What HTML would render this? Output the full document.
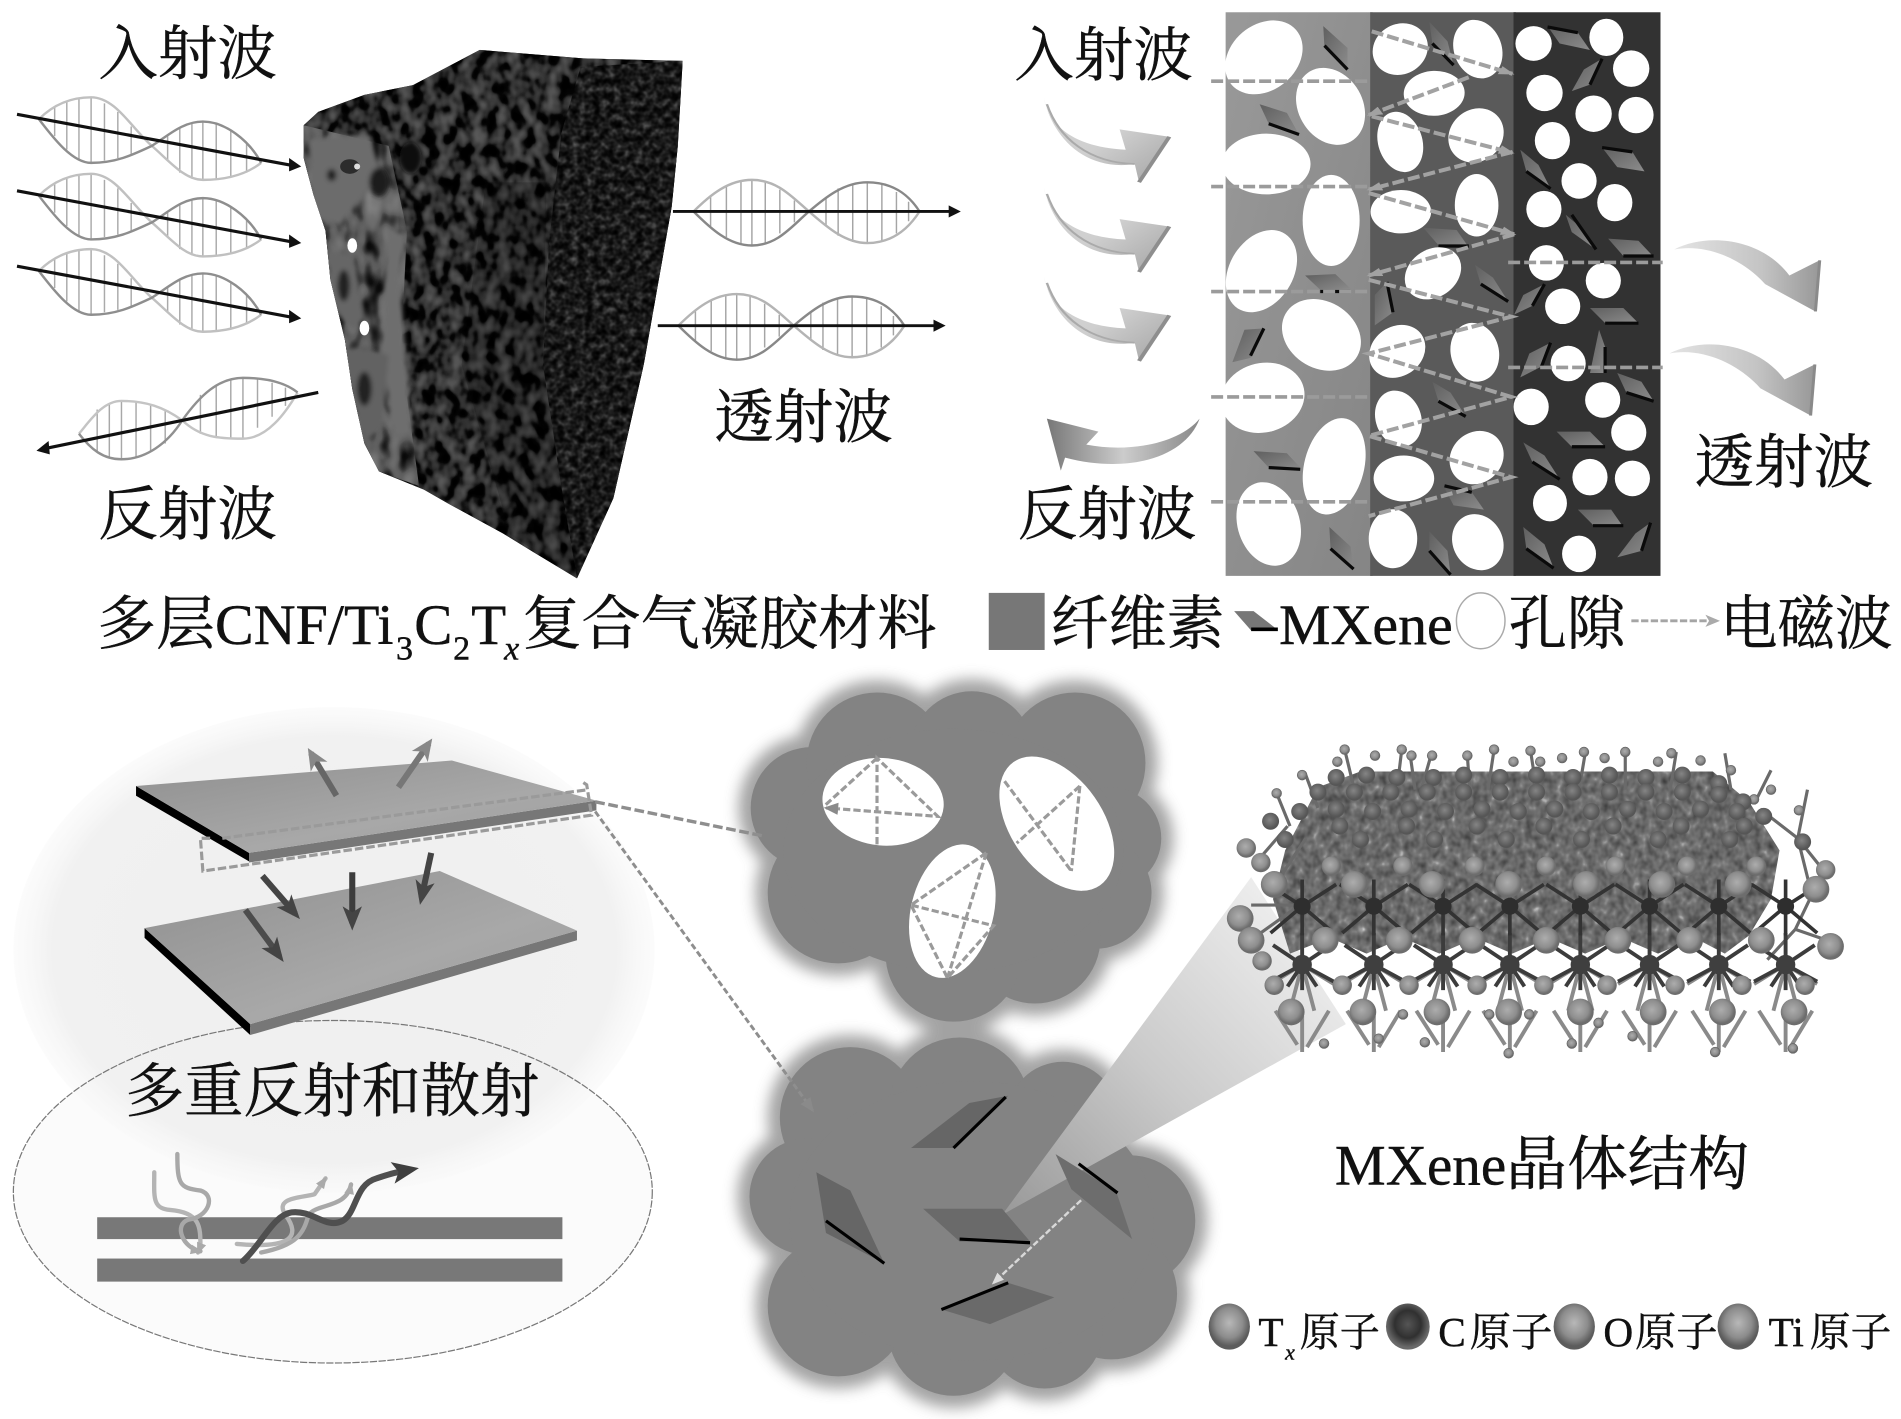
<!DOCTYPE html>
<html><head><meta charset="utf-8"><style>
html,body{margin:0;padding:0;background:#fff}
svg{display:block}
text{fill:#111;stroke:#111;stroke-width:.35}
.c{font-family:"Noto Serif CJK SC","Noto Serif CJK JP","Liberation Serif",serif;font-size:48.5px}
.l{font-family:"Liberation Serif",serif;font-size:47px}
.s{font-family:"Liberation Serif",serif;font-size:28px}
.c2{font-family:"Noto Serif CJK SC","Liberation Serif",serif;font-size:33px}
.l2{font-family:"Liberation Serif",serif;font-size:34px}
</style></head><body>
<svg width="1901" height="1419" viewBox="0 0 1565 1168" xmlns="http://www.w3.org/2000/svg">
<defs>
<filter id="fPore" x="0" y="0" width="100%" height="100%" color-interpolation-filters="sRGB"><feTurbulence type="fractalNoise" baseFrequency=".1 .075" numOctaves="2" seed="7"/><feColorMatrix values="1 0 0 0 0 1 0 0 0 0 1 0 0 0 0 0 0 0 0 1"/><feComponentTransfer><feFuncR type="table" tableValues="0 0 0 .02 .18 .26 .32 .36 .42"/><feFuncG type="table" tableValues="0 0 0 .02 .18 .26 .32 .36 .42"/><feFuncB type="table" tableValues="0 0 0 .02 .18 .26 .32 .36 .42"/></feComponentTransfer></filter>
<filter id="fLeft" x="0" y="0" width="100%" height="100%" color-interpolation-filters="sRGB"><feTurbulence type="fractalNoise" baseFrequency=".07 .045" numOctaves="2" seed="3"/><feColorMatrix values="1 0 0 0 0 1 0 0 0 0 1 0 0 0 0 0 0 0 0 1"/><feComponentTransfer><feFuncR type="table" tableValues="0 0 .05 .2 .36 .42 .46 .5 .54"/><feFuncG type="table" tableValues="0 0 .05 .2 .36 .42 .46 .5 .54"/><feFuncB type="table" tableValues="0 0 .05 .2 .36 .42 .46 .5 .54"/></feComponentTransfer></filter>
<filter id="fFine" x="0" y="0" width="100%" height="100%" color-interpolation-filters="sRGB"><feTurbulence type="fractalNoise" baseFrequency=".17" numOctaves="2" seed="11"/><feColorMatrix values="1 0 0 0 0 1 0 0 0 0 1 0 0 0 0 0 0 0 0 1"/><feComponentTransfer><feFuncR type="table" tableValues="0 0 .02 .05 .1 .16 .24 .32 .4"/><feFuncG type="table" tableValues="0 0 .02 .05 .1 .16 .24 .32 .4"/><feFuncB type="table" tableValues="0 0 .02 .05 .1 .16 .24 .32 .4"/></feComponentTransfer></filter>
<filter id="fLat" x="0" y="0" width="100%" height="100%" color-interpolation-filters="sRGB"><feTurbulence type="fractalNoise" baseFrequency=".16 .13" numOctaves="2" seed="5"/><feColorMatrix values="1 0 0 0 0 1 0 0 0 0 1 0 0 0 0 0 0 0 0 1"/><feComponentTransfer><feFuncR type="table" tableValues=".2 .26 .32 .37 .42 .46 .54 .72 1"/><feFuncG type="table" tableValues=".2 .26 .32 .37 .42 .46 .54 .72 1"/><feFuncB type="table" tableValues=".2 .26 .32 .37 .42 .46 .54 .72 1"/></feComponentTransfer></filter>
<filter id="blur8" x="-20%" y="-20%" width="140%" height="140%"><feGaussianBlur stdDeviation="6"/></filter>
<filter id="b2" x="-20%" y="-20%" width="140%" height="140%"><feGaussianBlur stdDeviation="2"/></filter>
<clipPath id="foam"><path d="M250 103L262 92 300 78 340 70 395 41 480 48 562 50 558 120 553 170 530 300 505 410 475 476 440 455 414 439 370 415 349 403 312 388 300 365 290 320 284 280 272 230 268 190 258 160 250 130Z"/></clipPath>
<clipPath id="cLeft"><path d="M250 103L320 120 335 190 330 290 345 400 312 388 300 365 290 320 284 280 272 230 268 190 258 160 250 130Z"/></clipPath>
<clipPath id="cRight"><path d="M478 55L562 50 558 120 553 170 530 300 505 410 475 476 462 400 447 300 452 200 462 110Z"/></clipPath>
<clipPath id="cLat"><path d="M1085 648L1120 635 1410 635 1440 660 1465 700 1458 740 1440 770 1420 785 1395 772 1365 785 1335 772 1305 785 1275 772 1245 785 1215 772 1185 785 1155 772 1125 785 1095 772 1062 785 1048 740 1058 700Z"/></clipPath>
<radialGradient id="disc"><stop offset="0" stop-color="#efefef"/><stop offset=".88" stop-color="#f1f1f1"/><stop offset="1" stop-color="#f8f8f8" stop-opacity=".5"/></radialGradient>
<linearGradient id="plate" x1="0" y1="0" x2="1" y2="1"><stop offset="0" stop-color="#8f8f8f"/><stop offset=".6" stop-color="#a8a8a8"/><stop offset="1" stop-color="#9c9c9c"/></linearGradient>
<linearGradient id="beam" gradientUnits="userSpaceOnUse" x1="830" y1="1000" x2="1070" y2="770"><stop offset="0" stop-color="#9a9a9a"/><stop offset=".5" stop-color="#cacaca"/><stop offset="1" stop-color="#ececec"/></linearGradient>
<linearGradient id="sw1" x1="0" y1="0" x2="1" y2="1"><stop offset="0" stop-color="#d4d4d4"/><stop offset=".5" stop-color="#cfcfcf"/><stop offset="1" stop-color="#a4a4a4"/></linearGradient>
<linearGradient id="sw2" x1="0" y1="0" x2="1" y2="0"><stop offset="0" stop-color="#e4e4e4"/><stop offset=".6" stop-color="#c4c4c4"/><stop offset="1" stop-color="#989898"/></linearGradient>
<linearGradient id="sw3" x1="0" y1="0" x2="1" y2="0"><stop offset="0" stop-color="#777"/><stop offset=".5" stop-color="#ccc"/><stop offset="1" stop-color="#888"/></linearGradient>
<linearGradient id="col1" x1="0" y1="0" x2="1" y2="1"><stop offset="0" stop-color="#999"/><stop offset="1" stop-color="#858585"/></linearGradient>
<linearGradient id="sheet" x1="0" y1="0" x2="1" y2="1"><stop offset="0" stop-color="#5f5f5f"/><stop offset="1" stop-color="#8c8c8c"/></linearGradient>
<radialGradient id="ba" cx=".45" cy=".42"><stop offset="0" stop-color="#adadad"/><stop offset=".7" stop-color="#8e8e8e"/><stop offset="1" stop-color="#6d6d6d"/></radialGradient>
<radialGradient id="bd" cx=".45" cy=".42"><stop offset="0" stop-color="#858585"/><stop offset="1" stop-color="#565656"/></radialGradient>
<radialGradient id="bk" cx=".5" cy=".45"><stop offset="0" stop-color="#555"/><stop offset=".6" stop-color="#303030"/><stop offset="1" stop-color="#6a6a6a"/></radialGradient>
<radialGradient id="bl" cx=".5" cy=".42"><stop offset="0" stop-color="#b8b8b8"/><stop offset=".65" stop-color="#8c8c8c"/><stop offset="1" stop-color="#5c5c5c"/></radialGradient>
<circle id="B" r="11" fill="url(#ba)"/>
<circle id="M" r="8" fill="url(#ba)"/>
<circle id="S" r="4" fill="url(#ba)" stroke="#666" stroke-width=".6"/>
<circle id="D" r="7" fill="url(#bd)"/>
<g id="cell">
<path d="M-10 832L0 794 10 832M-26 810L0 794 26 810M-22 832L-4 860M22 832L4 862M0 836V866" stroke="#8a8a8a" stroke-width="3.2" fill="none"/>
<path d="M-24 778L0 794 24 778M-26 808L0 794 26 808M0 768V815M-12 812L0 794 12 812" stroke="#3c3c3c" stroke-width="3.2" fill="none"/>
<circle cx="0" cy="794" r="8" fill="#3f3f3f"/>
<path d="M-28 728L0 746 28 728M-26 768L0 746 26 768M0 724V770" stroke="#333" stroke-width="3" fill="none"/>
<circle cx="0" cy="746" r="7" fill="#2e2e2e"/>
</g>
<g id="wv" fill="none">
<path d="M45 88V112M55 83V123M65 81V131M75 80V134M86 85V132M97 92V130M108 104V127M138 132V112M148 142V105M158 147V101M167 148V100M178 148V102M190 146V107M203 142V118" stroke="#aaa" stroke-width="1.2"/>
<path d="M32 98C45 85 60 80 75 80C95 80 108 105 125 120C140 133 152 148 167 148C185 148 202 144 215 134" stroke="#c0c0c0" stroke-width="2"/>
<path d="M32 98C45 115 60 134 75 134C95 134 108 128 125 120C138 112 150 100 167 100C185 100 205 115 215 134" stroke="#8e8e8e" stroke-width="2"/>
<path d="M14 94L240 136" stroke="#111" stroke-width="2.6"/>
<path d="M248 137L238 130 238 141Z" fill="#111"/>
</g>
<g id="wt" fill="none">
<path d="M585 162V186M598 153V195M610 149V201M619 148V202M630 150V200M642 156V192M654 165V183M680 186V162M690 194V155M702 199V151M714 200V150M726 198V152M738 192V158M748 182V166" stroke="#a5a5a5" stroke-width="1.2"/>
<path d="M571 174C585 160 600 148 619 148C640 148 652 162 666 174C680 186 695 200 714 200C735 200 748 188 757 174" stroke="#b4b4b4" stroke-width="2"/>
<path d="M571 174C585 188 600 202 619 202C640 202 652 186 666 174C680 162 695 150 714 150C735 150 748 160 757 174" stroke="#888" stroke-width="2"/>
<path d="M554 174H782" stroke="#111" stroke-width="2.4"/>
<path d="M791 174L781 169V179Z" fill="#111"/>
</g>
<g id="swi"><path d="M155 225C165 300 215 340 290 345L280 298 362 315 312 420 305 378C225 395 170 320 155 225Z" fill="url(#sw1)"/><path d="M362 315L312 420" stroke="#8e8e8e" stroke-width="7"/><path d="M160 240C180 320 230 375 305 378" stroke="#aaa" stroke-width="4" fill="none"/></g>
<g id="swo"><path d="M1195 575C1250 535 1340 550 1385 635L1435 600 1428 718 1345 655C1310 600 1250 560 1195 575Z" fill="url(#sw2)"/><path d="M1435 600L1428 718" stroke="#8a8a8a" stroke-width="5"/></g>
<marker id="mz" markerUnits="userSpaceOnUse" markerWidth="26" markerHeight="26" refX="22" refY="13" orient="auto"><path d="M0 3L26 13 0 23Z" fill="#a2a2a2"/></marker>
<marker id="ma" markerUnits="userSpaceOnUse" markerWidth="12" markerHeight="12" refX="10" refY="6" orient="auto"><path d="M0 1L12 6 0 11Z" fill="#8a8a8a"/></marker>
<marker id="mw" markerUnits="userSpaceOnUse" markerWidth="10" markerHeight="10" refX="8" refY="5" orient="auto"><path d="M0 1L10 5 0 9Z" fill="#ddd"/></marker>
<marker id="mi" markerUnits="userSpaceOnUse" markerWidth="10" markerHeight="10" refX="8" refY="5" orient="auto"><path d="M0 1L10 5 0 9Z" fill="#aaa"/></marker>
<marker id="mk" markerUnits="userSpaceOnUse" markerWidth="20" markerHeight="20" refX="14" refY="10" orient="auto"><path d="M0 2L20 10 0 18 5 10Z" fill="#444"/></marker>
<marker id="mg" markerUnits="userSpaceOnUse" markerWidth="18" markerHeight="18" refX="13" refY="9" orient="auto"><path d="M0 1L18 9 0 17 5 9Z" fill="#888"/></marker>
<marker id="mv" markerUnits="userSpaceOnUse" markerWidth="22" markerHeight="20" refX="14" refY="10" orient="auto"><path d="M0 1L22 10 0 19 5 10Z" fill="#3f3f3f"/></marker>
<marker id="ml" markerUnits="userSpaceOnUse" markerWidth="12" markerHeight="12" refX="9" refY="6" orient="auto"><path d="M0 1L12 6 0 11 3 6Z" fill="#aaa"/></marker>
</defs>
<rect width="1565" height="1168" fill="#fff"/>

<!-- foam block -->
<g clip-path="url(#foam)">
<rect x="240" y="30" width="340" height="460" fill="#2a2a2a"/>
<rect x="240" y="30" width="340" height="460" filter="url(#fPore)"/>
<g clip-path="url(#cLeft)"><rect x="240" y="90" width="120" height="330" filter="url(#fLeft)"/></g>
<g filter="url(#b2)">
<polygon points="254,114 304,111 314,143 280,186 257,178" fill="#6c6c6c"/>
<polygon points="319,189 334,193 329,228 339,357 324,360 314,285" fill="#6e6e6e"/>
<polygon points="268,205 290,210 300,262 290,272 276,255" fill="#666"/>
<polygon points="282,285 320,292 315,350 300,365 288,320" fill="#626262"/>
<ellipse cx="273" cy="144" rx="4" ry="5" fill="#222"/>
<ellipse cx="283" cy="235" rx="5" ry="13" fill="#222"/>
<ellipse cx="300" cy="320" rx="6" ry="14" fill="#222"/>
<ellipse cx="312" cy="150" rx="8" ry="12" fill="#1c1c1c"/>
<ellipse cx="338" cy="130" rx="9" ry="13" fill="#111"/>
</g>
<ellipse cx="288" cy="137" rx="8" ry="6" fill="#2c2c2c"/><circle cx="294" cy="137" r="2.5" fill="#ddd"/>
<ellipse cx="290" cy="202" rx="4" ry="6" fill="#fff"/>
<ellipse cx="300" cy="270" rx="4" ry="6" fill="#fff"/>
<g clip-path="url(#cRight)"><rect x="440" y="40" width="130" height="440" filter="url(#fFine)"/></g>
<polygon points="400,150 450,150 447,300 462,400 475,476 420,440 380,300" fill="#000" opacity=".18"/>
</g>

<!-- waves -->
<use href="#wv"/><use href="#wv" y="63"/><use href="#wv" y="125"/>
<g fill="none">
<path d="M80 337V372M90 332V376M100 330V378M112 331V376M124 333V372M136 337V365M165 357V325M178 359V317M190 361V313M200 361V311M212 352V312M224 343V315M235 334V319" stroke="#a8a8a8" stroke-width="1.2"/>
<path d="M65 357C75 345 85 330 100 330C120 330 135 335 150 346C165 360 180 361 200 361C220 361 235 340 245 323" stroke="#c4c4c4" stroke-width="2"/>
<path d="M65 357C75 370 85 378 100 378C120 378 138 365 150 346C165 325 180 311 200 311C220 311 235 315 245 323" stroke="#909090" stroke-width="2"/>
<path d="M262 323L38 369" stroke="#111" stroke-width="2.6"/>
<path d="M30 371L40 363 41 374Z" fill="#111"/>
</g>
<use href="#wt"/><use href="#wt" x="-12.5" y="94"/>

<text class="c" x="81" y="61" textLength="147" lengthAdjust="spacingAndGlyphs">入射波</text>
<text class="c" x="81" y="440" textLength="147" lengthAdjust="spacingAndGlyphs">反射波</text>
<text class="c" x="588" y="360" textLength="147" lengthAdjust="spacingAndGlyphs">透射波</text>
<text class="c" x="835" y="62" textLength="147" lengthAdjust="spacingAndGlyphs">入射波</text>
<text class="c" x="838" y="440" textLength="147" lengthAdjust="spacingAndGlyphs">反射波</text>
<text class="c" x="1395" y="397" textLength="147" lengthAdjust="spacingAndGlyphs">透射波</text>

<!-- title -->
<text class="c" x="80" y="530" textLength="97" lengthAdjust="spacingAndGlyphs">多层</text>
<text class="l" x="177" y="530" textLength="147" lengthAdjust="spacingAndGlyphs">CNF/Ti</text>
<text class="s" x="326" y="543">3</text>
<text class="l" x="341" y="530">C</text>
<text class="s" x="373" y="543">2</text>
<text class="l" x="388" y="530">T</text>
<text class="s" x="415" y="543" font-style="italic">x</text>
<text class="c" x="430" y="530" textLength="341" lengthAdjust="spacingAndGlyphs">复合气凝胶材料</text>

<!-- layered panel -->
<rect x="1009" y="10" width="121" height="464" fill="url(#col1)"/>
<rect x="1128" y="10" width="120" height="464" fill="#5a5a5a"/>
<rect x="1246" y="10" width="121" height="464" fill="#323232"/>
<g transform="translate(780 0) scale(.499 .357)">
<g fill="url(#sheet)">
<polygon points="620,60 660,110 660,160 622,110"/><polygon points="515,240 560,260 580,310 530,285"/><polygon points="590,635 640,632 665,665 615,668"/><polygon points="470,835 490,760 522,757 500,825"/><polygon points="505,1040 560,1045 585,1082 530,1078"/><polygon points="630,1215 665,1260 670,1315 632,1265"/>
<polygon points="795,50 825,95 835,150 800,100"/><polygon points="785,525 840,530 860,570 810,565"/><polygon points="870,610 900,640 925,695 880,655"/><polygon points="705,750 705,680 725,650 735,720"/><polygon points="800,880 830,905 855,960 810,925"/><polygon points="820,1125 865,1135 885,1175 835,1165"/><polygon points="795,1225 825,1270 830,1325 795,1270"/>
<polygon points="990,60 1040,75 1060,115 1010,100"/><polygon points="1030,210 1050,160 1080,135 1060,195"/><polygon points="1080,340 1130,350 1150,395 1105,385"/><polygon points="945,345 975,380 995,435 955,395"/><polygon points="1020,495 1050,530 1070,575 1030,535"/><polygon points="1090,550 1140,555 1165,592 1115,590"/><polygon points="935,725 950,680 985,655 965,705"/><polygon points="1060,710 1115,710 1140,745 1085,745"/><polygon points="945,870 960,815 995,790 980,845"/><polygon points="1060,860 1075,760 1085,800 1085,860"/><polygon points="1105,860 1145,880 1165,925 1120,905"/><polygon points="1005,995 1060,995 1085,1030 1030,1030"/><polygon points="950,1020 985,1050 1010,1105 965,1065"/><polygon points="1040,1175 1095,1175 1115,1215 1065,1210"/><polygon points="950,1215 985,1255 1000,1310 955,1265"/><polygon points="1105,1285 1135,1230 1160,1205 1145,1270"/>
</g>
<path vector-effect="non-scaling-stroke" stroke="#0a0a0a" stroke-width="3.2" fill="none" d="M622 105L660 160M530 285L580 310M615 672H665M500 820L522 757M530 1078L582 1082M632 1265L670 1312M800 100L835 150M810 567H860M880 655L925 695M725 650L735 720M810 925L855 960M820 1120L865 1135M795 1270L830 1325M990 62L1040 75M1060 195L1080 135M1080 340L1130 350M955 395L995 435M1030 495L1070 575M1115 590H1165M965 705L985 655M1085 745H1140M980 845L995 790M1085 860V800M1120 905L1165 925M1030 1030H1085M965 1065L1010 1105M1065 1212H1115M955 1265L1000 1310M1145 1270L1160 1205"/>
<g fill="#fff">
<ellipse cx="522" cy="132" rx="60" ry="88" transform="rotate(20 522 132)"/><ellipse cx="632" cy="245" rx="55" ry="90" transform="rotate(-12 632 245)"/><ellipse cx="526" cy="378" rx="73" ry="70"/><ellipse cx="633" cy="508" rx="47" ry="105"/><ellipse cx="518" cy="625" rx="55" ry="97" transform="rotate(15 518 625)"/><ellipse cx="617" cy="772" rx="62" ry="85" transform="rotate(-20 617 772)"/><ellipse cx="520" cy="917" rx="68" ry="82" transform="rotate(15 520 917)"/><ellipse cx="638" cy="1075" rx="50" ry="112" transform="rotate(8 638 1075)"/><ellipse cx="530" cy="1208" rx="52" ry="97" transform="rotate(-8 530 1208)"/>
<ellipse cx="747" cy="113" rx="45" ry="60" transform="rotate(10 747 113)"/><ellipse cx="875" cy="113" rx="40" ry="68" transform="rotate(-8 875 113)"/><ellipse cx="803" cy="215" rx="50" ry="52" transform="rotate(20 803 215)"/><ellipse cx="747" cy="327" rx="37" ry="70" transform="rotate(-8 747 327)"/><ellipse cx="872" cy="312" rx="45" ry="63" transform="rotate(10 872 312)"/><ellipse cx="748" cy="488" rx="50" ry="50"/><ellipse cx="873" cy="473" rx="36" ry="72"/><ellipse cx="801" cy="630" rx="44" ry="62" transform="rotate(20 801 630)"/><ellipse cx="742" cy="810" rx="45" ry="62" transform="rotate(15 742 810)"/><ellipse cx="870" cy="812" rx="40" ry="68" transform="rotate(-5 870 812)"/><ellipse cx="744" cy="965" rx="38" ry="65" transform="rotate(-8 744 965)"/><ellipse cx="873" cy="1055" rx="44" ry="62" transform="rotate(10 873 1055)"/><ellipse cx="753" cy="1103" rx="50" ry="53"/><ellipse cx="735" cy="1242" rx="40" ry="68"/><ellipse cx="875" cy="1250" rx="42" ry="65" transform="rotate(-8 875 1250)"/>
<ellipse cx="967" cy="100" rx="30" ry="40"/><ellipse cx="1087" cy="86" rx="28" ry="43"/><ellipse cx="1128" cy="158" rx="30" ry="42"/><ellipse cx="985" cy="214" rx="30" ry="42"/><ellipse cx="1066" cy="262" rx="30" ry="42"/><ellipse cx="1136" cy="265" rx="29" ry="42"/><ellipse cx="998" cy="324" rx="29" ry="43"/><ellipse cx="1042" cy="417" rx="29" ry="41"/><ellipse cx="984" cy="482" rx="29" ry="42"/><ellipse cx="1101" cy="467" rx="29" ry="43"/><ellipse cx="988" cy="606" rx="29" ry="41"/><ellipse cx="1082" cy="647" rx="29" ry="41"/><ellipse cx="1015" cy="706" rx="29" ry="41"/><ellipse cx="1024" cy="838" rx="29" ry="41"/><ellipse cx="1081" cy="922" rx="29" ry="41"/><ellipse cx="963" cy="938" rx="29" ry="42"/><ellipse cx="1124" cy="997" rx="29" ry="42"/><ellipse cx="1060" cy="1100" rx="29" ry="42"/><ellipse cx="1130" cy="1103" rx="29" ry="41"/><ellipse cx="994" cy="1160" rx="28" ry="42"/><ellipse cx="1042" cy="1277" rx="28" ry="42"/>
</g>
<g fill="none" stroke="#9b9b9b" stroke-width="3.6" stroke-dasharray="12 4">
<path vector-effect="non-scaling-stroke" d="M435 187H693M435 430H693M435 672H693M435 915H693M435 1157H693M925 605H1180M925 847H1180"/>
<g stroke="#a2a2a2" stroke-width="4">
<path vector-effect="non-scaling-stroke" marker-end="url(#mz)" d="M700 72L932 170"/><path vector-effect="non-scaling-stroke" marker-end="url(#mz)" d="M860 178L695 265"/><path vector-effect="non-scaling-stroke" marker-end="url(#mz)" d="M700 268L932 352"/><path vector-effect="non-scaling-stroke" marker-end="url(#mz)" d="M932 350L695 437"/><path vector-effect="non-scaling-stroke" marker-end="url(#mz)" d="M695 445L935 540"/><path vector-effect="non-scaling-stroke" marker-end="url(#mz)" d="M935 540L695 635"/><path vector-effect="non-scaling-stroke" d="M695 645L930 730L695 815L930 915L695 1005L930 1100L695 1190"/>
</g></g>
</g>

<!-- swooshes -->
<g transform="translate(782 0) scale(.499 .357)">
<use href="#swi"/><use href="#swi" y="207"/><use href="#swi" y="412"/>
<use href="#swo"/><use href="#swo" x="-8" y="240"/>
<path d="M412 965C390 1050 300 1095 190 1055L183 1085 160 965 245 995 225 1025C300 1045 380 1020 412 965Z" fill="url(#sw3)"/>
</g>

<!-- legend -->
<rect x="814" y="488" width="46" height="47" fill="#777"/>
<text class="c" x="865" y="530" textLength="143" lengthAdjust="spacingAndGlyphs">纤维素</text>
<polygon points="1016,503 1032,503 1050,517 1030,519" fill="#777"/><path d="M1030 518H1052" stroke="#000" stroke-width="3"/>
<text class="l" x="1053" y="530" textLength="143" lengthAdjust="spacingAndGlyphs">MXene</text>
<ellipse cx="1219" cy="511" rx="20" ry="23" fill="#fff" stroke="#aaa" stroke-width="1.2"/>
<text class="c" x="1242" y="530" textLength="96" lengthAdjust="spacingAndGlyphs">孔隙</text>
<path d="M1343 511H1413" stroke="#a5a5a5" stroke-width="2.4" stroke-dasharray="6 2" marker-end="url(#ml)"/>
<text class="c" x="1416" y="530" textLength="142" lengthAdjust="spacingAndGlyphs">电磁波</text>

<!-- left bottom -->
<ellipse cx="274" cy="981" rx="263" ry="141" fill="#fbfbfb"/>
<ellipse cx="275" cy="782" rx="264" ry="200" fill="url(#disc)"/>
<ellipse cx="274" cy="981" rx="263" ry="141" fill="none" stroke="#777" stroke-width="1" stroke-dasharray="6 1.2"/>

<polygon points="112,655 205,709 205,702 112,647" fill="#000"/>
<polygon points="205,702 491,659 491,667 205,710" fill="#777"/>
<polygon points="112,647 372,626 491,659 205,702" fill="url(#plate)"/>
<path d="M173 690L165 690 167 717 487 671 483 646 480 644M183 690L484 650" fill="none" stroke="#9a9a9a" stroke-width="2.6" stroke-dasharray="7 2.5"/>
<polygon points="119,764 206,843 206,852 119,772" fill="#000"/>
<polygon points="206,843 475,766 475,774 206,852" fill="#777"/>
<polygon points="119,764 362,717 475,766 206,843" fill="url(#plate)"/>
<g fill="none" stroke-width="5">
<path d="M277 655L256 620" stroke="#666" marker-end="url(#mg)"/><path d="M328 648L353 612" stroke="#777" marker-end="url(#mg)"/>
<path d="M216 721L243 752" stroke="#444" marker-end="url(#mk)"/><path d="M290 718V760" stroke="#3c3c3c" marker-end="url(#mk)"/><path d="M355 702L347 739" stroke="#444" marker-end="url(#mk)"/><path d="M202 749L230 787" stroke="#4c4c4c" marker-end="url(#mk)"/>
</g>

<text class="c" x="103" y="915" textLength="341" lengthAdjust="spacingAndGlyphs">多重反射和散射</text>
<rect x="80" y="1002" width="383" height="18" fill="#787878"/><rect x="80" y="1036" width="383" height="19" fill="#787878"/>
<g fill="none" stroke-linejoin="round" stroke-linecap="round">
<path d="M127 965C127 985 125 995 140 996C165 998 165 1010 165 1026L163 1031" stroke="#b4b4b4" stroke-width="3.6" marker-end="url(#mi)"/>
<path d="M146 950C146 975 148 978 165 980C178 984 172 1002 155 1004C143 1008 150 1027 165 1030" stroke="#a8a8a8" stroke-width="3.6" marker-end="url(#mi)"/>
<path d="M195 1024C240 1028 248 1018 235 1000C225 985 250 986 259 983L268 970" stroke="#b4b4b4" stroke-width="3.6" marker-end="url(#mi)"/>
<path d="M215 1031C245 1025 250 1015 254 1000C262 990 285 995 289 975" stroke="#a8a8a8" stroke-width="3.6" marker-end="url(#mi)"/>
<path d="M200 1038C215 1025 225 1000 240 998C258 996 268 1012 282 1005C294 998 292 975 310 970C322 966 326 965 337 963" stroke="#4f4f4f" stroke-width="5" marker-end="url(#mv)"/>
</g>

<!-- clouds -->
<g fill="#8c8c8c" stroke="#8c8c8c" stroke-width="12" filter="url(#blur8)" opacity=".8">
<circle cx="668" cy="665" r="54"/><circle cx="722" cy="628" r="62"/><circle cx="800" cy="620" r="55"/><circle cx="885" cy="628" r="62"/><circle cx="914" cy="690" r="46"/><circle cx="902" cy="735" r="50"/><circle cx="852" cy="772" r="58"/><circle cx="785" cy="785" r="60"/><circle cx="690" cy="735" r="62"/>
<circle cx="700" cy="920" r="62"/><circle cx="790" cy="912" r="62"/><circle cx="875" cy="920" r="50"/><circle cx="930" cy="1005" r="58"/><circle cx="915" cy="1065" r="58"/><circle cx="860" cy="1095" r="52"/><circle cx="785" cy="1095" r="58"/><circle cx="690" cy="1075" r="62"/><circle cx="665" cy="985" r="52"/>
<ellipse cx="785" cy="700" rx="140" ry="100"/><ellipse cx="800" cy="1005" rx="150" ry="115"/>
</g>
<g fill="#838383">
<circle cx="668" cy="665" r="50"/><circle cx="722" cy="628" r="58"/><circle cx="800" cy="620" r="51"/><circle cx="885" cy="628" r="58"/><circle cx="914" cy="690" r="42"/><circle cx="902" cy="735" r="46"/><circle cx="852" cy="772" r="54"/><circle cx="785" cy="785" r="56"/><circle cx="690" cy="735" r="58"/>
<circle cx="700" cy="920" r="58"/><circle cx="790" cy="912" r="58"/><circle cx="875" cy="920" r="46"/><circle cx="930" cy="1005" r="54"/><circle cx="915" cy="1065" r="54"/><circle cx="860" cy="1095" r="48"/><circle cx="785" cy="1095" r="54"/><circle cx="690" cy="1075" r="58"/><circle cx="665" cy="985" r="48"/>
<ellipse cx="785" cy="700" rx="140" ry="100"/><ellipse cx="800" cy="1005" rx="150" ry="115"/>
</g>
<path d="M490 660L628 688" stroke="#8e8e8e" stroke-width="2.8" stroke-dasharray="8 3" fill="none"/>
<path d="M490 668L669 914" stroke="#8e8e8e" stroke-width="2.4" stroke-dasharray="5 2.5" fill="none" marker-end="url(#ma)"/>
<g fill="#fff">
<ellipse cx="727" cy="660" rx="50" ry="36" transform="rotate(5 727 660)"/>
<ellipse cx="870" cy="678" rx="38" ry="62" transform="rotate(-35 870 678)"/>
<ellipse cx="784" cy="750" rx="34" ry="56" transform="rotate(14 784 750)"/>
</g>
<g fill="none" stroke="#9a9a9a" stroke-width="2.6" stroke-dasharray="6 2.5">
<path d="M722 695V624L772 672 680 665" marker-end="url(#ma)"/><path d="M722 624L678 664"/>
<path d="M827 643L882 717M889 647L837 694M889 647L882 717" />
<path d="M812 702L750 745 780 805 818 762 750 745M812 702L780 805"/>
</g>
<!-- beam -->
<polygon points="825,1000 1030,722 1108,843" fill="url(#beam)"/>
<!-- sheets on lower cloud -->
<polygon points="750,945 798,908 830,902 785,945" fill="#666"/><path d="M785 945L828 903" stroke="#000" stroke-width="2.6"/>
<polygon points="672,965 700,980 728,1040 680,1015" fill="#666"/><path d="M680 1005L728 1040" stroke="#000" stroke-width="2.6"/>
<polygon points="760,995 825,995 848,1022 790,1022" fill="#6a6a6a"/><path d="M790 1020L848 1023" stroke="#000" stroke-width="2.6"/>
<polygon points="869,950 919,981 932,1020 882,979" fill="#6d6d6d"/><path d="M888 958L920 982" stroke="#000" stroke-width="2.6"/>
<polygon points="775,1078 830,1056 868,1068 815,1090" fill="#6a6a6a"/><path d="M775 1078L830 1056" stroke="#000" stroke-width="2.6"/>
<path d="M890 988L818 1056" stroke="#d8d8d8" stroke-width="2" stroke-dasharray="5 2" fill="none" marker-end="url(#mw)"/>

<!-- crystal -->
<g clip-path="url(#cLat)"><rect x="1030" y="620" width="450" height="175" filter="url(#fLat)"/></g>
<g stroke="#6a6a6a" stroke-width="2.6" fill="none">
<path d="M1107 617L1115 650M1154 617L1150 650M1161 622L1165 650M1178 622L1170 650M1208 622L1210 650M1230 617L1225 650M1260 618L1265 650M1305 620L1300 650M1338 619V650M1380 619L1375 650M1420 620L1425 650M1458 634L1445 660M1488 650L1480 690M1075 638L1085 665M1051 653L1062 680"/>
<path d="M1449 666L1480 690 1500 715M1480 690L1490 730"/>
<path d="M1034 710L1060 680M1050 728L1075 690"/>
<path d="M1490 740L1478 765 1507 775M1478 765L1455 790M1030 745L1065 745M1035 770L1070 745"/>
</g>
<g>
<use href="#cell" x="1072"/><use href="#cell" x="1131"/><use href="#cell" x="1188"/><use href="#cell" x="1243"/><use href="#cell" x="1301"/><use href="#cell" x="1358"/><use href="#cell" x="1415"/><use href="#cell" x="1470"/>
<!-- top small -->
<use href="#S" x="1107" y="617"/><use href="#S" x="1154" y="617"/><use href="#S" x="1230" y="617"/><use href="#S" x="1260" y="618"/><use href="#S" x="1304" y="619"/><use href="#S" x="1338" y="619"/><use href="#S" x="1376" y="620"/><use href="#S" x="1400" y="626"/><use href="#S" x="1425" y="634"/><use href="#S" x="1458" y="650"/><use href="#S" x="1481" y="667"/><use href="#S" x="1444" y="658"/><use href="#S" x="1072" y="638"/><use href="#S" x="1051" y="653"/><use href="#S" x="1101" y="627"/><use href="#S" x="1132" y="622"/><use href="#S" x="1162" y="622"/><use href="#S" x="1179" y="622"/><use href="#S" x="1208" y="622"/><use href="#S" x="1246" y="627"/><use href="#S" x="1268" y="627"/><use href="#S" x="1286" y="624"/><use href="#S" x="1321" y="624"/><use href="#S" x="1365" y="627"/>
<!-- upper rows -->
<use href="#D" x="1100" y="640"/><use href="#D" x="1125" y="638"/><use href="#D" x="1150" y="640"/><use href="#D" x="1180" y="640"/><use href="#D" x="1205" y="638"/><use href="#D" x="1235" y="640"/><use href="#D" x="1265" y="638"/><use href="#D" x="1295" y="640"/><use href="#D" x="1325" y="638"/><use href="#D" x="1355" y="640"/><use href="#D" x="1385" y="638"/><use href="#D" x="1415" y="645"/>
<use href="#D" x="1085" y="652"/><use href="#D" x="1115" y="652"/><use href="#D" x="1145" y="652"/><use href="#D" x="1175" y="652"/><use href="#D" x="1205" y="652"/><use href="#D" x="1235" y="652"/><use href="#D" x="1265" y="652"/><use href="#D" x="1295" y="652"/><use href="#D" x="1325" y="652"/><use href="#D" x="1355" y="652"/><use href="#D" x="1385" y="652"/><use href="#D" x="1415" y="654"/><use href="#D" x="1435" y="660"/>
<use href="#D" x="1070" y="668"/><use href="#D" x="1100" y="666"/><use href="#D" x="1130" y="668"/><use href="#D" x="1160" y="666"/><use href="#D" x="1190" y="668"/><use href="#D" x="1220" y="666"/><use href="#D" x="1250" y="668"/><use href="#D" x="1280" y="666"/><use href="#D" x="1310" y="668"/><use href="#D" x="1340" y="666"/><use href="#D" x="1370" y="668"/><use href="#D" x="1400" y="666"/><use href="#D" x="1430" y="668"/><use href="#D" x="1452" y="672"/>
<use href="#D" x="1046" y="676"/><use href="#D" x="1103" y="680"/><use href="#D" x="1158" y="680"/><use href="#D" x="1216" y="680"/><use href="#D" x="1271" y="680"/><use href="#D" x="1328" y="680"/><use href="#D" x="1384" y="680"/><use href="#D" x="1436" y="680"/>
<use href="#D" x="1058" y="691"/><use href="#D" x="1120" y="691"/><use href="#D" x="1181" y="691"/><use href="#D" x="1240" y="691"/><use href="#D" x="1302" y="691"/><use href="#D" x="1365" y="691"/><use href="#D" x="1424" y="691"/><use href="#D" x="1484" y="693"/>
<use href="#M" x="1026" y="698"/><use href="#M" x="1038" y="710"/><use href="#M" x="1096" y="713"/><use href="#M" x="1155" y="713"/><use href="#M" x="1214" y="713"/><use href="#M" x="1273" y="713"/><use href="#M" x="1330" y="713"/><use href="#M" x="1389" y="713"/><use href="#M" x="1446" y="713"/><use href="#M" x="1503" y="716"/>
<use href="#B" x="1049" y="728"/><use href="#B" x="1115" y="728"/><use href="#B" x="1179" y="728"/><use href="#B" x="1242" y="728"/><use href="#B" x="1306" y="728"/><use href="#B" x="1368" y="728"/><use href="#B" x="1431" y="728"/><use href="#B" x="1495" y="732"/>
<use href="#B" x="1021" y="756"/><use href="#B" x="1030" y="774"/><use href="#B" x="1091" y="774"/><use href="#B" x="1152" y="774"/><use href="#B" x="1212" y="774"/><use href="#B" x="1273" y="774"/><use href="#B" x="1332" y="774"/><use href="#B" x="1391" y="774"/><use href="#B" x="1450" y="774"/><use href="#B" x="1507" y="779"/>
<use href="#M" x="1039" y="791"/>
<use href="#M" x="1049" y="811"/><use href="#M" x="1105" y="811"/><use href="#M" x="1160" y="811"/><use href="#M" x="1216" y="811"/><use href="#M" x="1271" y="811"/><use href="#M" x="1323" y="811"/><use href="#M" x="1379" y="811"/><use href="#M" x="1434" y="811"/><use href="#M" x="1486" y="811"/>
<use href="#B" x="1063" y="833"/><use href="#B" x="1122" y="833"/><use href="#B" x="1183" y="833"/><use href="#B" x="1242" y="833"/><use href="#B" x="1301" y="833"/><use href="#B" x="1361" y="833"/><use href="#B" x="1418" y="833"/><use href="#B" x="1477" y="833"/>
<use href="#S" x="1090" y="859"/><use href="#S" x="1135" y="855"/><use href="#S" x="1173" y="858"/><use href="#S" x="1242" y="867"/><use href="#S" x="1294" y="859"/><use href="#S" x="1344" y="853"/><use href="#S" x="1412" y="866"/><use href="#S" x="1476" y="863"/><use href="#S" x="1155" y="835"/><use href="#S" x="1226" y="835"/><use href="#S" x="1259" y="835"/><use href="#S" x="1316" y="842"/>
</g>

<text class="l" x="1099" y="975" textLength="141" lengthAdjust="spacingAndGlyphs">MXene</text>
<text class="c" x="1240" y="975" textLength="200" lengthAdjust="spacingAndGlyphs">晶体结构</text>

<!-- atom legend -->
<ellipse cx="1012" cy="1092" rx="17" ry="19" fill="url(#bl)"/>
<text class="l2" x="1036" y="1108">T</text><text x="1058" y="1119" font-family="Liberation Serif, serif" font-style="italic" font-size="18">x</text>
<text class="c2" x="1070" y="1108" textLength="66" lengthAdjust="spacingAndGlyphs">原子</text>
<ellipse cx="1159" cy="1092" rx="18" ry="19" fill="url(#bk)"/>
<text class="l2" x="1184" y="1108">C</text>
<text class="c2" x="1210" y="1108" textLength="68" lengthAdjust="spacingAndGlyphs">原子</text>
<ellipse cx="1296" cy="1092" rx="17" ry="19" fill="url(#bl)"/>
<text class="l2" x="1320" y="1108">O</text>
<text class="c2" x="1346" y="1108" textLength="68" lengthAdjust="spacingAndGlyphs">原子</text>
<ellipse cx="1431" cy="1092" rx="17" ry="19" fill="url(#bl)"/>
<text class="l2" x="1456" y="1108">Ti</text>
<text class="c2" x="1490" y="1108" textLength="67" lengthAdjust="spacingAndGlyphs">原子</text>
</svg>
</body></html>
